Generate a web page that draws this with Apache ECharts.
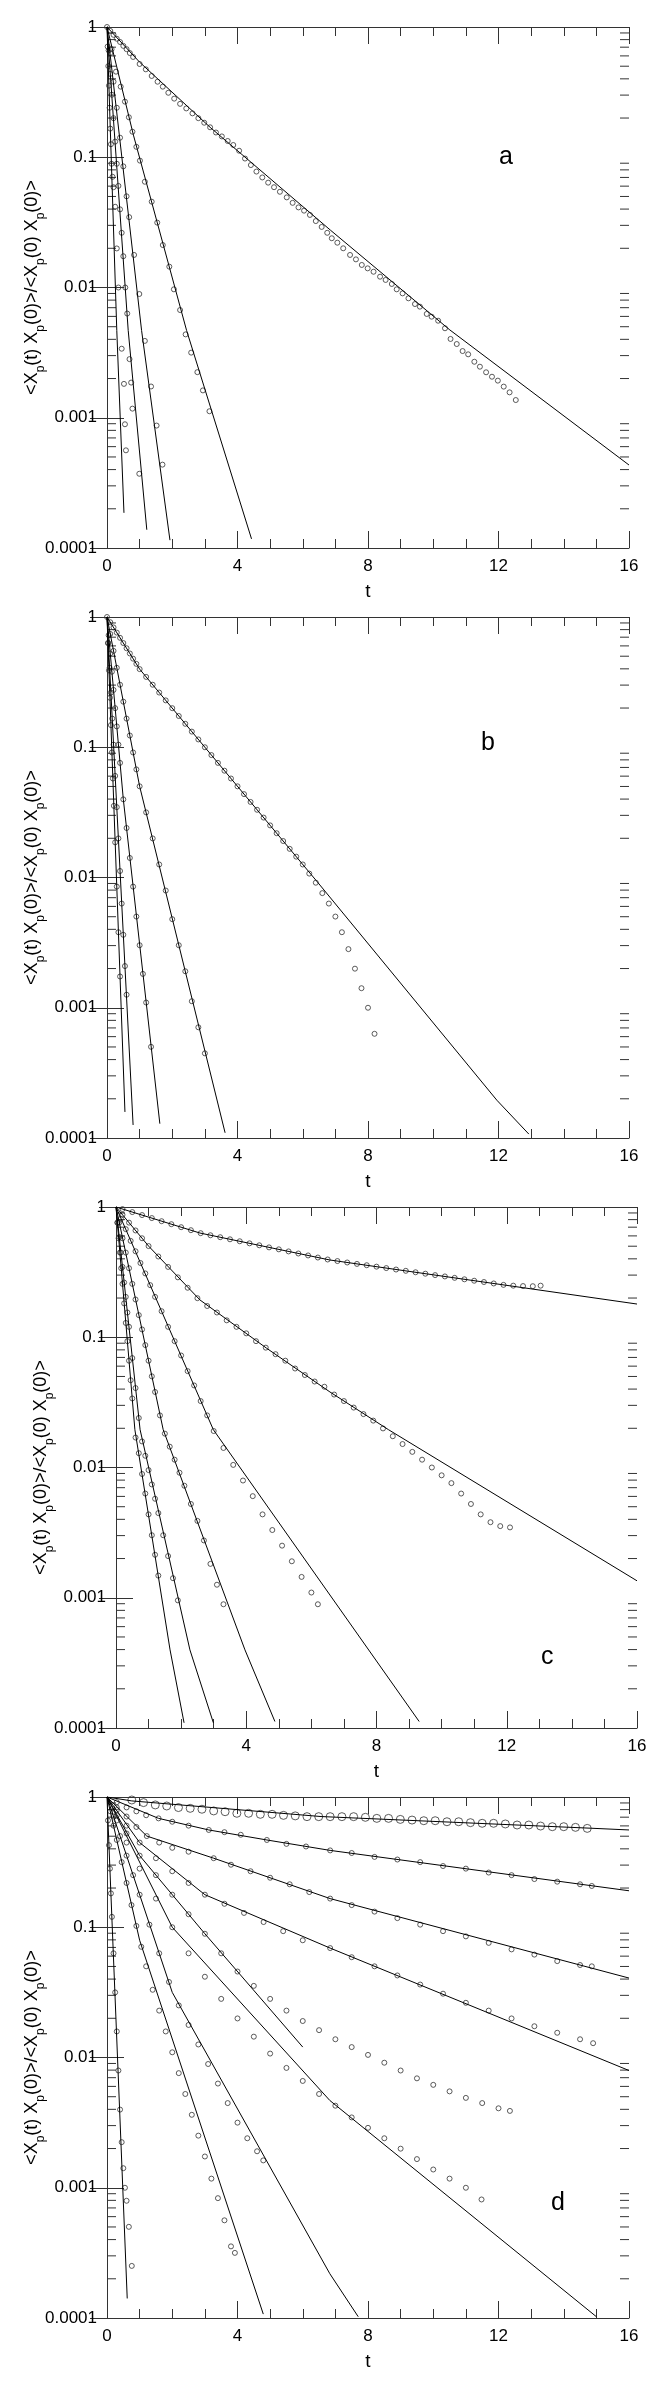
<!DOCTYPE html>
<html>
<head>
<meta charset="utf-8">
<script src="https://cdn.jsdelivr.net/npm/echarts@6/dist/echarts.min.js"></script>
<style>
  html, body { margin: 0; padding: 0; background: #fff; }
  #chart { width: 660px; height: 2382px; }
</style>
</head>
<body>
<div id="chart"></div>
<script>
// tick values
var tTicks = [0, 4, 8, 12, 16];
var yMinor = [2e-4, 3e-4, 4e-4, 5e-4, 6e-4, 7e-4, 8e-4, 9e-4,
              2e-3, 3e-3, 4e-3, 5e-3, 6e-3, 7e-3, 8e-3, 9e-3,
              0.02, 0.03, 0.04, 0.05, 0.06, 0.07, 0.08, 0.09,
              0.2, 0.3, 0.4, 0.5, 0.6, 0.7, 0.8, 0.9];

// all curves: [t, log10 of correlation]

// ---- panel a ----
var aFit1 = [[0, 0], [1, -0.27], [3.16, -0.77], [6.85, -1.56], [10.51, -2.326], [16, -3.363]];
var aFit2 = [[0, 0], [0.81, -0.83], [2.44, -2.33], [4.43, -3.93]];
var aFit3 = [[0, 0], [1.06, -2.33], [1.93, -3.94]];
var aFit4 = [[0, 0], [0.65, -2.33], [1.22, -3.86]];
var aFit5 = [[0, 0], [0.30, -2.33], [0.52, -3.73]];

var aPts1T = [0,0.1,0.2,0.3,0.4,0.5,0.6,0.7,0.8,1.0,1.19,1.37,1.55,1.71,1.88,2.06,2.24,2.43,2.62,2.8,2.98,3.16,3.34,3.52,3.7,3.87,4.05,4.23,4.41,4.58,4.76,4.94,5.12,5.3,5.51,5.69,5.87,6.04,6.22,6.4,6.58,6.75,6.89,7.06,7.24,7.45,7.63,7.81,7.99,8.17,8.37,8.54,8.73,8.88,9.06,9.24,9.44,9.59,9.8,9.95,10.15,10.36,10.53,10.72,10.9,11.07,11.26,11.43,11.62,11.8,11.98,12.16,12.34,12.53];
var aPts1L = [0,-0.03,-0.06,-0.09,-0.115,-0.145,-0.17,-0.2,-0.23,-0.284,-0.325,-0.376,-0.42,-0.458,-0.505,-0.55,-0.59,-0.625,-0.663,-0.7,-0.735,-0.77,-0.81,-0.84,-0.875,-0.906,-0.95,-1.01,-1.06,-1.11,-1.155,-1.195,-1.23,-1.265,-1.308,-1.35,-1.385,-1.41,-1.443,-1.49,-1.535,-1.58,-1.622,-1.656,-1.699,-1.75,-1.784,-1.827,-1.853,-1.879,-1.917,-1.942,-1.973,-2.014,-2.045,-2.083,-2.127,-2.147,-2.203,-2.224,-2.255,-2.313,-2.395,-2.434,-2.488,-2.513,-2.57,-2.608,-2.651,-2.685,-2.715,-2.761,-2.805,-2.864];
var aPts2T = [0.14,0.276,0.42,0.55,0.67,0.78,0.9,1.01,1.16,1.37,1.54,1.71,1.91,2.05,2.24,2.41,2.58,2.77,2.94,3.14];
var aPts2L = [-0.17,-0.343,-0.458,-0.573,-0.693,-0.804,-0.92,-1.026,-1.188,-1.341,-1.502,-1.674,-1.84,-2.014,-2.173,-2.36,-2.5,-2.65,-2.79,-2.95];
var aPts3T = [0.1,0.2,0.3,0.4,0.5,0.6,0.68,0.83,0.99,1.16,1.35,1.52,1.70];
var aPts3L = [-0.2,-0.42,-0.62,-0.85,-1.07,-1.3,-1.46,-1.75,-2.05,-2.41,-2.76,-3.06,-3.36];
var aPts4T = [0.05,0.1,0.15,0.2,0.25,0.3,0.35,0.4,0.45,0.5,0.56,0.62,0.69,0.74,0.78,0.99];
var aPts4L = [-0.18,-0.36,-0.52,-0.7,-0.88,-1.05,-1.22,-1.4,-1.58,-1.76,-2.0,-2.2,-2.55,-2.73,-2.93,-3.43];
var aPts5T = [0.02,0.04,0.06,0.08,0.1,0.12,0.14,0.17,0.2,0.25,0.3,0.35,0.45,0.52,0.55,0.58];
var aPts5L = [-0.15,-0.3,-0.45,-0.62,-0.78,-0.9,-1.05,-1.15,-1.23,-1.38,-1.7,-2.0,-2.47,-2.74,-3.05,-3.25];

// ---- panel b ----
var bFit1 = [[0, 0], [1, -0.4], [6.5, -2.05], [11.95, -3.71], [12.93, -3.97]];
var bFit2 = [[0, 0], [1, -1.3], [3.62, -3.96]];
var bFit3 = [[0, 0], [0.5, -1.4], [1.62, -3.89]];
var bFit4 = [[0, 0], [0.8, -3.9]];
var bFit5 = [[0, 0], [0.55, -3.8]];

var bPts1T = [0,0.1,0.2,0.3,0.4,0.5,0.6,0.7,0.8,0.9,1.0,1.2,1.4,1.6,1.8,2.0,2.2,2.4,2.6,2.8,3.0,3.2,3.4,3.6,3.8,4.0,4.2,4.4,4.6,4.8,5.0,5.2,5.4,5.6,5.8,6.0,6.2,6.4,6.6,6.8,7.0,7.2,7.4,7.6,7.8,8.0,8.2];
var bPts1L = [0,-0.04,-0.08,-0.12,-0.16,-0.2,-0.24,-0.28,-0.32,-0.36,-0.4,-0.46,-0.52,-0.58,-0.64,-0.7,-0.76,-0.82,-0.88,-0.94,-1.0,-1.06,-1.12,-1.18,-1.24,-1.3,-1.36,-1.42,-1.48,-1.54,-1.6,-1.66,-1.72,-1.78,-1.84,-1.9,-1.97,-2.04,-2.12,-2.2,-2.3,-2.42,-2.55,-2.7,-2.85,-3.0,-3.2];
var bPts2T = [0.1,0.2,0.3,0.4,0.5,0.6,0.7,0.8,0.9,1.0,1.2,1.4,1.6,1.8,2.0,2.2,2.4,2.6,2.8,3.0];
var bPts2L = [-0.13,-0.26,-0.39,-0.52,-0.65,-0.78,-0.91,-1.04,-1.17,-1.3,-1.5,-1.7,-1.9,-2.1,-2.32,-2.52,-2.72,-2.95,-3.15,-3.35];
var bPts3T = [0.05,0.1,0.15,0.2,0.25,0.3,0.35,0.4,0.5,0.6,0.7,0.8,0.9,1.0,1.1,1.2,1.35];
var bPts3L = [-0.14,-0.28,-0.42,-0.56,-0.7,-0.84,-0.98,-1.12,-1.4,-1.62,-1.85,-2.07,-2.3,-2.52,-2.74,-2.96,-3.3];
var bPts4T = [0.04,0.08,0.12,0.16,0.2,0.25,0.3,0.35,0.4,0.45,0.5,0.55,0.6];
var bPts4L = [-0.2,-0.39,-0.58,-0.78,-0.98,-1.22,-1.46,-1.7,-1.95,-2.2,-2.44,-2.68,-2.9];
var bPts5T = [0.03,0.06,0.09,0.12,0.15,0.18,0.21,0.25,0.3,0.35,0.4];
var bPts5L = [-0.2,-0.41,-0.62,-0.83,-1.04,-1.24,-1.45,-1.73,-2.07,-2.42,-2.76];

// ---- panel c ----
var cFit1 = [[0, 0], [2.58, -0.2], [6.57, -0.407], [16, -0.745]];
var cFit2 = [[0, 0], [1, -0.3], [2.58, -0.714], [4.63, -1.085], [6.57, -1.42], [8.37, -1.71], [16, -2.87]];
var cFit3 = [[0, 0], [2.99, -1.71], [9.31, -3.95]];
var cFit4 = [[0, 0], [1.45, -1.71], [3.96, -3.40], [4.88, -3.95]];
var cFit5 = [[0, 0], [0.74, -1.71], [2.27, -3.40], [2.99, -3.96]];
var cFit6 = [[0, 0], [0.58, -1.71], [1.66, -3.40], [2.09, -3.96]];

var cPts1T = [0.2,0.5,0.8,1.1,1.4,1.7,2.0,2.3,2.6,2.9,3.2,3.5,3.8,4.1,4.4,4.7,5.0,5.3,5.6,5.9,6.2,6.5,6.8,7.1,7.4,7.7,8.0,8.3,8.6,8.9,9.2,9.5,9.8,10.1,10.4,10.7,11.0,11.3,11.6,11.9,12.2,12.5,12.8,13.04];
var cPts1L = [-0.016,-0.039,-0.062,-0.085,-0.109,-0.132,-0.155,-0.178,-0.201,-0.217,-0.232,-0.248,-0.263,-0.279,-0.294,-0.31,-0.325,-0.341,-0.357,-0.372,-0.388,-0.403,-0.415,-0.426,-0.437,-0.447,-0.458,-0.469,-0.48,-0.49,-0.501,-0.512,-0.523,-0.533,-0.544,-0.555,-0.566,-0.576,-0.587,-0.598,-0.604,-0.607,-0.608,-0.604];
var cPts2T = [0.2,0.4,0.6,0.8,1.0,1.3,1.6,1.9,2.2,2.5,2.8,3.1,3.4,3.7,4.0,4.3,4.6,4.9,5.2,5.5,5.8,6.1,6.4,6.7,7.0,7.3,7.6,7.9,8.2,8.5,8.8,9.1,9.4,9.7,10.0,10.3,10.6,10.9,11.2,11.5,11.8,12.1];
var cPts2L = [-0.06,-0.12,-0.18,-0.24,-0.3,-0.38,-0.46,-0.54,-0.62,-0.7,-0.76,-0.81,-0.87,-0.92,-0.97,-1.03,-1.08,-1.13,-1.18,-1.24,-1.29,-1.34,-1.38,-1.44,-1.49,-1.54,-1.59,-1.64,-1.7,-1.76,-1.82,-1.88,-1.94,-2.0,-2.06,-2.12,-2.2,-2.28,-2.36,-2.42,-2.45,-2.46];
var cPts3T = [0.15,0.3,0.45,0.6,0.75,0.9,1.05,1.2,1.4,1.6,1.8,2.0,2.2,2.4,2.6,2.8,3.0,3.3,3.6,3.9,4.2,4.5,4.8,5.1,5.4,5.7,6.0,6.2];
var cPts3L = [-0.09,-0.17,-0.26,-0.34,-0.43,-0.51,-0.6,-0.69,-0.8,-0.92,-1.03,-1.14,-1.26,-1.37,-1.49,-1.6,-1.72,-1.85,-1.98,-2.1,-2.22,-2.36,-2.48,-2.6,-2.72,-2.84,-2.96,-3.05];
var cPts4T = [0.1,0.2,0.3,0.4,0.5,0.6,0.7,0.8,0.9,1.0,1.1,1.2,1.35,1.5,1.65,1.8,1.95,2.1,2.3,2.5,2.7,2.9,3.1,3.3];
var cPts4L = [-0.12,-0.24,-0.35,-0.47,-0.59,-0.71,-0.83,-0.94,-1.06,-1.18,-1.3,-1.42,-1.6,-1.74,-1.84,-1.94,-2.04,-2.14,-2.28,-2.41,-2.56,-2.74,-2.9,-3.05];
var cPts5T = [0.05,0.1,0.15,0.2,0.25,0.3,0.35,0.4,0.5,0.6,0.7,0.8,0.9,1.0,1.1,1.2,1.3,1.45,1.6,1.75,1.9];
var cPts5L = [-0.12,-0.23,-0.35,-0.46,-0.58,-0.69,-0.81,-0.92,-1.16,-1.39,-1.62,-1.8,-1.91,-2.02,-2.13,-2.24,-2.35,-2.52,-2.68,-2.85,-3.02];
var cPts6T = [0.04,0.08,0.12,0.16,0.2,0.25,0.3,0.35,0.4,0.45,0.5,0.6,0.7,0.8,0.9,1.0,1.1,1.2,1.3];
var cPts6L = [-0.12,-0.24,-0.35,-0.47,-0.59,-0.74,-0.89,-1.03,-1.18,-1.33,-1.47,-1.77,-1.89,-2.05,-2.2,-2.36,-2.52,-2.67,-2.83];

// ---- panel d ----
var dFit1 = [[0, 0], [0.76, -0.03], [6.56, -0.15], [14.86, -0.24], [16, -0.253]];
var dFit2 = [[0, 0], [1.58, -0.164], [3.12, -0.253], [4.9, -0.33], [6.84, -0.41], [16, -0.72]];
var dFit3 = [[0, 0], [1.22, -0.30], [3.27, -0.47], [6.84, -0.78], [16, -1.39]];
var dFit4 = [[0, 0], [1, -0.35], [3, -0.75], [6.84, -1.16], [16, -2.1]];
var dFit5 = [[0, 0], [1, -0.45], [3, -1.05], [6, -1.92]];
var dFit6 = [[0, 0], [2, -1.0], [6.83, -2.33], [15, -3.99]];
var dFit7 = [[0, 0], [2, -1.5], [6.83, -3.66], [7.7, -3.99]];
var dFit8 = [[0, 0], [1, -1.1], [4.79, -3.97]];
var dFit9 = [[0, 0], [0.62, -3.85]];

var dPts1T = [0.76,1.12,1.48,1.83,2.19,2.55,2.91,3.27,3.62,3.98,4.34,4.7,5.06,5.41,5.77,6.13,6.49,6.84,7.2,7.56,7.92,8.27,8.63,8.99,9.35,9.71,10.06,10.42,10.78,11.14,11.5,11.85,12.21,12.57,12.93,13.29,13.65,14.0,14.36,14.72];
var dPts1L = [-0.023,-0.043,-0.061,-0.069,-0.081,-0.087,-0.094,-0.107,-0.113,-0.125,-0.125,-0.133,-0.133,-0.141,-0.145,-0.151,-0.151,-0.151,-0.151,-0.151,-0.156,-0.164,-0.164,-0.172,-0.177,-0.182,-0.182,-0.19,-0.19,-0.197,-0.202,-0.202,-0.207,-0.215,-0.215,-0.223,-0.228,-0.228,-0.233,-0.241];
var dPts2T = [0.3,0.6,0.9,1.2,1.58,2.0,2.5,3.12,3.6,4.1,4.9,5.5,6.1,6.84,7.5,8.2,8.9,9.6,10.3,11.0,11.7,12.4,13.1,13.8,14.5,14.86];
var dPts2L = [-0.04,-0.08,-0.11,-0.14,-0.164,-0.19,-0.22,-0.253,-0.27,-0.29,-0.33,-0.36,-0.38,-0.41,-0.43,-0.46,-0.48,-0.5,-0.53,-0.55,-0.58,-0.6,-0.63,-0.65,-0.67,-0.683];
var dPts3T = [0.3,0.6,0.9,1.22,1.6,2.0,2.5,3.27,3.8,4.4,5.0,5.6,6.2,6.84,7.5,8.2,8.9,9.6,10.3,11.0,11.7,12.4,13.1,13.8,14.5,14.86];
var dPts3L = [-0.08,-0.15,-0.23,-0.30,-0.35,-0.39,-0.42,-0.47,-0.52,-0.57,-0.62,-0.67,-0.73,-0.78,-0.83,-0.88,-0.93,-0.98,-1.03,-1.07,-1.12,-1.17,-1.21,-1.26,-1.29,-1.30];
var dPts4T = [0.3,0.6,1.0,1.5,2.0,2.5,3.0,3.6,4.2,4.8,5.4,6.0,6.84,7.5,8.2,8.9,9.6,10.3,11.0,11.7,12.4,13.1,13.8,14.5,14.9];
var dPts4L = [-0.1,-0.22,-0.35,-0.47,-0.57,-0.66,-0.75,-0.82,-0.89,-0.96,-1.03,-1.1,-1.16,-1.23,-1.3,-1.37,-1.44,-1.51,-1.58,-1.64,-1.7,-1.76,-1.81,-1.86,-1.89];
var dPts5T = [0.3,0.6,1.0,1.5,2.0,2.5,3.0,3.5,4.0,4.5,5.0,5.5,6.0,6.5,7.0,7.5,8.0,8.5,9.0,9.5,10.0,10.5,11.0,11.5,12.0,12.35];
var dPts5L = [-0.14,-0.28,-0.45,-0.6,-0.75,-0.9,-1.05,-1.2,-1.34,-1.45,-1.55,-1.64,-1.72,-1.79,-1.86,-1.92,-1.98,-2.04,-2.1,-2.16,-2.21,-2.26,-2.31,-2.35,-2.39,-2.41];
var dPts6T = [0.3,0.6,1.0,1.5,2.0,2.5,3.0,3.5,4.0,4.5,5.0,5.5,6.0,6.5,7.0,7.5,8.0,8.5,9.0,9.5,10.0,10.5,11.0,11.48];
var dPts6L = [-0.18,-0.35,-0.55,-0.78,-1.0,-1.2,-1.38,-1.55,-1.7,-1.84,-1.97,-2.08,-2.18,-2.28,-2.37,-2.46,-2.54,-2.62,-2.7,-2.78,-2.86,-2.93,-3.0,-3.09];
var dPts7T = [0.2,0.4,0.6,0.8,1.0,1.3,1.6,1.9,2.2,2.5,2.8,3.1,3.4,3.7,4.0,4.3,4.6,4.79];
var dPts7L = [-0.15,-0.3,-0.45,-0.6,-0.75,-0.98,-1.2,-1.42,-1.6,-1.75,-1.9,-2.05,-2.2,-2.35,-2.5,-2.62,-2.72,-2.79];
var dPts8T = [0.1,0.2,0.3,0.45,0.6,0.75,0.9,1.05,1.2,1.4,1.6,1.8,2.0,2.2,2.4,2.6,2.8,3.0,3.2,3.4,3.6,3.8,3.92];
var dPts8L = [-0.11,-0.22,-0.33,-0.5,-0.66,-0.83,-0.99,-1.15,-1.3,-1.48,-1.64,-1.8,-1.96,-2.12,-2.28,-2.44,-2.6,-2.76,-2.93,-3.08,-3.25,-3.45,-3.5];
var dPts9T = [0.03,0.06,0.09,0.12,0.15,0.2,0.25,0.3,0.35,0.4,0.45,0.5,0.55,0.6,0.67,0.76];
var dPts9L = [-0.18,-0.37,-0.55,-0.74,-0.92,-1.2,-1.5,-1.8,-2.1,-2.4,-2.65,-2.85,-3.0,-3.1,-3.3,-3.6];

// ---- layout of the four panels ----
var panels = [
  { grid: { left: 107, top: 27, width: 522, height: 521 }, letter: 'a', letterPos: [494, 140],
    fits: [aFit1, aFit2, aFit3, aFit4, aFit5],
    pts: [[aPts1T, aPts1L], [aPts2T, aPts2L], [aPts3T, aPts3L], [aPts4T, aPts4L], [aPts5T, aPts5L]], big: [] },
  { grid: { left: 107, top: 617, width: 522, height: 521 }, letter: 'b', letterPos: [476, 726],
    fits: [bFit1, bFit2, bFit3, bFit4, bFit5],
    pts: [[bPts1T, bPts1L], [bPts2T, bPts2L], [bPts3T, bPts3L], [bPts4T, bPts4L], [bPts5T, bPts5L]], big: [] },
  { grid: { left: 116, top: 1207, width: 521, height: 521 }, letter: 'c', letterPos: [536, 1640],
    fits: [cFit1, cFit2, cFit3, cFit4, cFit5, cFit6],
    pts: [[cPts1T, cPts1L], [cPts2T, cPts2L], [cPts3T, cPts3L], [cPts4T, cPts4L], [cPts5T, cPts5L], [cPts6T, cPts6L]], big: [] },
  { grid: { left: 107, top: 1797, width: 522, height: 521 }, letter: 'd', letterPos: [546, 2186],
    fits: [dFit1, dFit2, dFit3, dFit4, dFit5, dFit6, dFit7, dFit8, dFit9],
    pts: [[dPts2T, dPts2L], [dPts3T, dPts3L], [dPts4T, dPts4L], [dPts5T, dPts5L], [dPts6T, dPts6L], [dPts7T, dPts7L], [dPts8T, dPts8L], [dPts9T, dPts9L]],
    big: [[dPts1T, dPts1L]] }
];

var FONT = 'Liberation Sans, Arial, sans-serif';
var AX = '#333';
var yName = '{n|<X}{s|p}{n|(t) X}{s|p}{n|(0)>/<X}{s|p}{n|(0) X}{s|p}{n|(0)>}';

function pow10(v) { return Math.pow(10, v); }

var option = {
  animation: false,
  backgroundColor: '#fff',
  grid: [], xAxis: [], yAxis: [], series: [], title: []
};

panels.forEach(function (p, i) {
  option.grid.push(p.grid);
  var xBase = {
    gridIndex: i, type: 'value', min: 0, max: 16, interval: 4,
    axisLine: { lineStyle: { color: AX, width: 1 } },
    axisTick: { inside: true, length: 17, lineStyle: { color: AX } },
    minorTick: { show: true, splitNumber: 4, length: 9, lineStyle: { color: AX } },
    splitLine: { show: false }
  };
  option.xAxis.push(Object.assign({}, xBase, {
    position: 'bottom',
    axisLabel: { fontSize: 17, color: '#000', fontFamily: FONT, margin: 10,
      formatter: function (v) { return tTicks.indexOf(v) >= 0 ? String(v) : ''; } },
    name: 't', nameLocation: 'middle', nameGap: 34, nameMoveOverlap: false,
    nameTextStyle: { fontSize: 19, color: '#000', fontFamily: FONT }
  }));
  option.xAxis.push(Object.assign({}, xBase, { position: 'top', axisLabel: { show: false } }));

  var yBase = {
    gridIndex: i, type: 'log', logBase: 10, min: 0.0001, max: 1,
    axisLine: { lineStyle: { color: AX, width: 1 } },
    axisTick: { inside: true, length: 17, lineStyle: { color: AX } },
    splitLine: { show: false }
  };
  option.yAxis.push(Object.assign({}, yBase, {
    position: 'left',
    axisLabel: { fontSize: 17, color: '#000', fontFamily: FONT, margin: 10,
      formatter: function (v) { return String(Number(Number(v).toPrecision(1))); } },
    name: yName, nameLocation: 'middle', nameGap: 62, nameRotate: 90, nameMoveOverlap: false,
    nameTextStyle: {
      color: '#000', fontFamily: FONT,
      rich: {
        n: { fontSize: 18, lineHeight: 22, verticalAlign: 'top', fontFamily: FONT, color: '#000' },
        s: { fontSize: 12, lineHeight: 12, padding: [12, 0, 0, 0], verticalAlign: 'top', fontFamily: FONT, color: '#000' }
      }
    }
  }));
  option.yAxis.push(Object.assign({}, yBase, { position: 'right', axisLabel: { show: false } }));

  // minor log ticks on both vertical axes
  option.series.push({
    type: 'custom', xAxisIndex: 2 * i, yAxisIndex: 2 * i, silent: true,
    data: yMinor.map(function (v) { return [0, v]; }),
    encode: { x: 0, y: 1 },
    renderItem: function (params, api) {
      var v = api.value(1);
      var l = api.coord([0, v]);
      var r = api.coord([16, v]);
      var st = { stroke: AX, lineWidth: 1 };
      return { type: 'group', children: [
        { type: 'line', shape: { x1: l[0], y1: l[1], x2: l[0] + 9, y2: l[1] }, style: st },
        { type: 'line', shape: { x1: r[0] - 9, y1: r[1], x2: r[0], y2: r[1] }, style: st }
      ] };
    }
  });

  p.fits.forEach(function (f) {
    option.series.push({
      type: 'line', xAxisIndex: 2 * i, yAxisIndex: 2 * i, showSymbol: false, silent: true,
      lineStyle: { color: '#000', width: 1 }, z: 3,
      data: f.map(function (q) { return [q[0], pow10(q[1])]; })
    });
  });
  function addPts(set, size) {
    set.forEach(function (s) {
      var T = s[0], L = s[1], data = [];
      for (var k = 0; k < Math.min(T.length, L.length); k++) data.push([T[k], pow10(L[k])]);
      option.series.push({
        type: 'scatter', xAxisIndex: 2 * i, yAxisIndex: 2 * i, silent: true,
        symbol: 'circle', symbolSize: size, z: 2,
        itemStyle: { color: 'rgba(0,0,0,0)', borderColor: '#333', borderWidth: 1 },
        data: data
      });
    });
  }
  addPts(p.pts, 5);
  addPts(p.big, 8);

  option.title.push({
    text: p.letter, left: p.letterPos[0], top: p.letterPos[1],
    textStyle: { fontSize: 25, fontWeight: 'normal', color: '#000', fontFamily: FONT }
  });
});

var chart = echarts.init(document.getElementById('chart'), null, { renderer: 'canvas' });
chart.setOption(option);
</script>
</body>
</html>
